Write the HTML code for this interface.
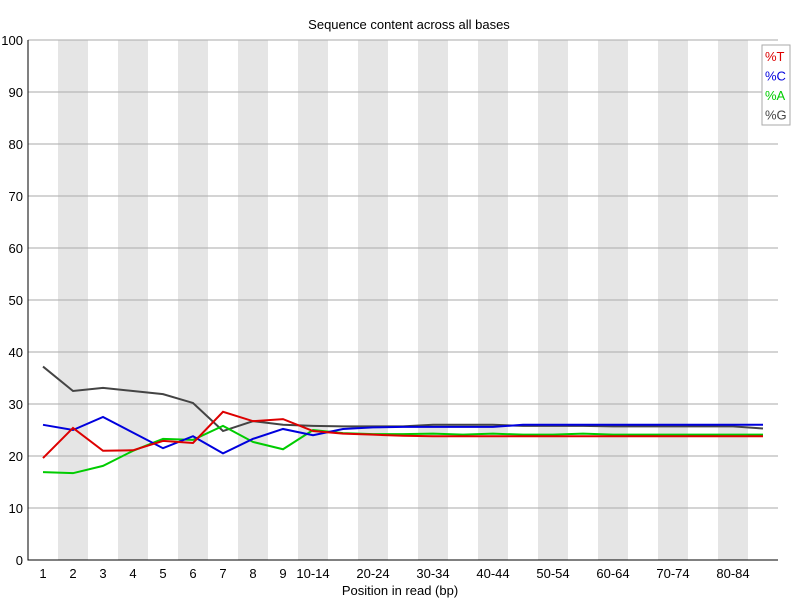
<!DOCTYPE html>
<html><head><meta charset="utf-8"><style>
body{margin:0;background:#fff;font-family:"Liberation Sans","DejaVu Sans",sans-serif}
svg text{font-family:"Liberation Sans","DejaVu Sans",sans-serif;font-size:13px;fill:#000}
</style></head><body>
<svg id="chart" width="800" height="600"></svg>
<script>
const categories=["1","2","3","4","5","6","7","8","9","10-14","15-19","20-24","25-29","30-34","35-39","40-44","45-49","50-54","55-59","60-64","65-69","70-74","75-79","80-84","85-89"];
const shownLabels=["1","2","3","4","5","6","7","8","9","10-14","","20-24","","30-34","","40-44","","50-54","","60-64","","70-74","","80-84",""];
const seriesT=[19.6,25.4,21,21.1,22.9,22.5,28.5,26.7,27.1,24.8,24.3,24.1,23.9,23.8,23.8,23.8,23.8,23.8,23.8,23.8,23.8,23.8,23.8,23.8,23.8];
const seriesC=[26,25,27.5,24.5,21.5,23.8,20.5,23.3,25.2,24,25.2,25.5,25.6,25.6,25.6,25.6,26,26,26,26,26,26,26,26,26];
const seriesA=[16.9,16.7,18.1,21,23.3,23.1,25.8,22.7,21.3,25,24.4,24.2,24.2,24.3,24.1,24.3,24.1,24.1,24.3,24.1,24.1,24.1,24.1,24.1,24.1];
const seriesG=[37.2,32.5,33.1,32.5,31.9,30.2,24.8,26.7,26,25.8,25.7,25.7,25.7,26,26,26,25.8,25.8,25.8,25.7,25.7,25.7,25.7,25.7,25.3];
const yTicks=[0,10,20,30,40,50,60,70,80,90,100];
const svg=document.getElementById('chart');const NS="http://www.w3.org/2000/svg";
const L=28,R=778,T=40,B=560,cw=(R-L)/categories.length;
const x=i=>L+cw*(i+0.5);const y=v=>B-(v/100)*(B-T);
function mk(tag,attrs,parent){const e=document.createElementNS(NS,tag);for(const k in attrs)e.setAttribute(k,attrs[k]);(parent||svg).appendChild(e);return e;}
categories.forEach((c,i)=>{if(i%2===1){const r=mk('rect',{x:L+cw*i,y:T,width:cw,height:B-T,fill:'#e5e5e5'});

}});
yTicks.forEach(v=>{if(v>0){const g=mk('line',{x1:L,x2:R,y1:y(v),y2:y(v),stroke:'#aaa','stroke-width':1});

}
const t=mk('text',{x:L-5,y:y(v)+5,'text-anchor':'end'});t.textContent=v;

});
const ax=mk('path',{d:`M${L},${T}V${B}H${R}`,stroke:'#000',fill:'none','stroke-width':1});


shownLabels.forEach((s,i)=>{if(!s)return;const t=mk('text',{x:x(i),y:B+18,'text-anchor':'middle'});t.textContent=s;

});
const series=[["T",seriesT,"#dd0000"],["C",seriesC,"#0000dd"],["A",seriesA,"#00cc00"],["G",seriesG,"#444444"]];
series.slice().reverse().forEach(([n,d,col])=>{const p=mk('polyline',{points:d.map((v,i)=>x(i)+','+y(v)).join(' '),fill:'none',stroke:col,'stroke-width':2});

});
const tt=mk('text',{x:409,y:29,'text-anchor':'middle'});tt.textContent='Sequence content across all bases';


const xt=mk('text',{x:400,y:595,'text-anchor':'middle'});xt.textContent='Position in read (bp)';


const lg=mk('rect',{x:762,y:45,width:28,height:80,fill:'#fff',stroke:'#aaa'});


series.forEach(([n,d,col],i)=>{const t=mk('text',{x:765,y:61+i*19.5});t.textContent='%'+n;t.style.fill=col;

});
</script>
</body></html>
